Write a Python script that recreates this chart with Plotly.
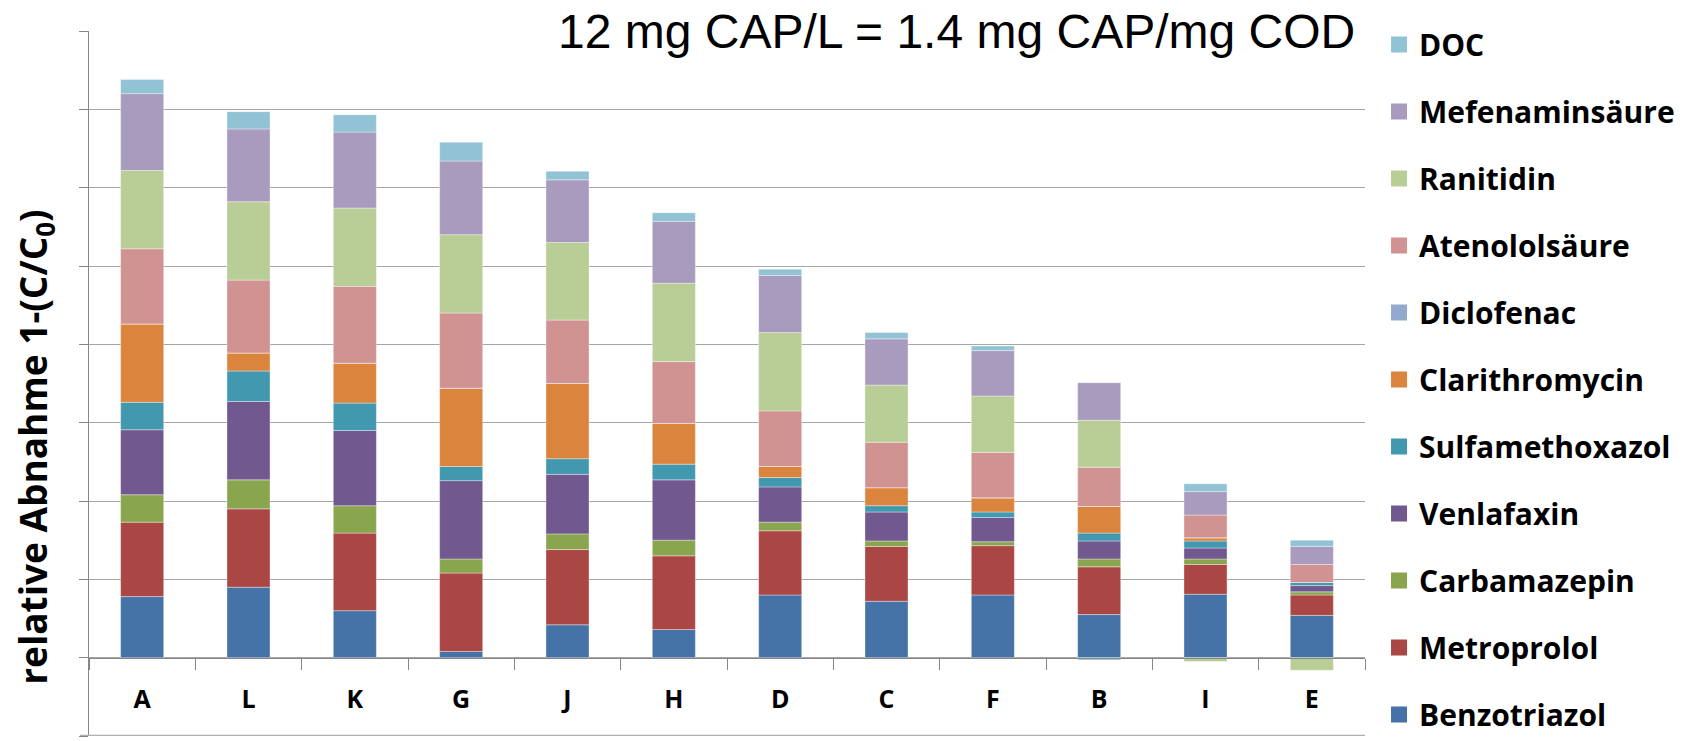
import plotly.graph_objects as go

categories = ["A", "L", "K", "G", "J", "H", "D", "C", "F", "B", "I", "E"]

series_names = ["Benzotriazol", "Metroprolol", "Carbamazepin", "Venlafaxin",
                "Sulfamethoxazol", "Clarithromycin", "Diclofenac", "Atenololsäure",
                "Ranitidin", "Mefenaminsäure", "DOC"]

benzotriazol    = [0.78, 0.90, 0.60, 0.08, 0.42, 0.36, 0.80, 0.72, 0.80, 0.55, 0.81, 0.54]
metroprolol     = [0.95, 1.00, 0.99, 1.00, 0.96, 0.94, 0.82, 0.70, 0.63, 0.61, 0.38, 0.26]
carbamazepin    = [0.35, 0.37, 0.35, 0.18, 0.20, 0.20, 0.11, 0.07, 0.05, 0.10, 0.07, 0.04]
venlafaxin      = [0.83, 1.00, 0.96, 1.00, 0.76, 0.77, 0.45, 0.37, 0.31, 0.23, 0.14, 0.08]
sulfamethoxazol = [0.35, 0.39, 0.35, 0.18, 0.20, 0.20, 0.12, 0.08, 0.07, 0.10, 0.09, 0.04]
clarithromycin  = [1.00, 0.23, 0.51, 1.00, 0.96, 0.52, 0.14, 0.23, 0.18, 0.34, 0.04, 0.00]
diclofenac      = [0.00, 0.00, 0.00, 0.00, 0.00, 0.00, 0.00, 0.00, 0.00, 0.00, 0.00, 0.00]
atenololsaeure  = [0.96, 0.93, 0.98, 0.96, 0.81, 0.79, 0.71, 0.58, 0.58, 0.50, 0.29, 0.23]
ranitidin       = [1.00, 1.00, 1.00, 1.00, 0.99, 1.00, 1.00, 0.73, 0.72, 0.60, -0.05, -0.16]
mefenaminsaeure = [0.98, 0.93, 0.97, 0.94, 0.80, 0.79, 0.73, 0.59, 0.58, 0.48, 0.30, 0.23]
doc             = [0.18, 0.22, 0.22, 0.24, 0.11, 0.11, 0.08, 0.08, 0.06, -0.03, 0.10, 0.08]

series_values = [benzotriazol, metroprolol, carbamazepin, venlafaxin, sulfamethoxazol,
                 clarithromycin, diclofenac, atenololsaeure, ranitidin, mefenaminsaeure, doc]

colors = ["#4572A7", "#AA4643", "#89A54E", "#71588F", "#4198AF", "#DB843D",
          "#93A9CF", "#D19392", "#B9CD96", "#A99BBD", "#92C3D4"]

y_range = [-1, 8]

title_text = "12 mg CAP/L = 1.4 mg CAP/mg COD"
y_title = "relative Abnahme 1-(C/C<sub>0</sub>)"

fig = go.Figure()
for i, (name, vals, col) in enumerate(zip(series_names, series_values, colors)):
    fig.add_trace(go.Bar(
        x=categories, y=vals, name=name, legendgroup=name, showlegend=False,
        marker=dict(color=col, line=dict(color="rgba(255,255,255,0.45)", width=0.8)),
    ))
    # legend entry (square swatch) for the same series
    fig.add_trace(go.Scatter(
        x=[None], y=[None], mode="markers", name=name, legendgroup=name,
        legendrank=100 - i, showlegend=True, hoverinfo="skip",
        marker=dict(symbol="square", size=20, color=col, line=dict(width=0)),
    ))

font_bold = "Open Sans"

fig.update_layout(
    width=1686, height=741,
    paper_bgcolor="white", plot_bgcolor="white",
    barmode="relative", bargap=0.595,
    margin=dict(l=89, r=321, t=31, b=5, autoexpand=False),
    showlegend=True,
    legend=dict(
        x=1.011, xanchor="left", y=-0.0064, yanchor="bottom",
        traceorder="grouped", tracegroupgap=25, maxheight=900,
        font=dict(family=font_bold, size=30, color="black", weight="bold"),
        bgcolor="rgba(0,0,0,0)", itemwidth=30,
    ),
    xaxis=dict(
        type="category", anchor="free", position=1 / (y_range[1] - y_range[0]),
        categoryorder="array", categoryarray=categories,
        showline=True, linecolor="#868686", linewidth=1,
        ticks="outside", tickson="boundaries", ticklen=11, tickcolor="#868686",
        showgrid=False, automargin=False,
        tickfont=dict(family=font_bold, size=25, color="black", weight="bold"),
        ticklabelstandoff=19,
    ),
    yaxis=dict(
        range=y_range, dtick=1, tick0=0,
        showgrid=True, gridcolor="#A6A6A6", gridwidth=1,
        showline=True, linecolor="#868686", linewidth=1,
        ticks="outside", ticklen=9, tickcolor="#868686",
        showticklabels=False, zeroline=False, automargin=False,
    ),
    shapes=[
        dict(type="line", xref="paper", x0=-0.007, x1=1, yref="y",
             y0=y_range[0], y1=y_range[0], line=dict(color="#B0B0B0", width=2.5)),
    ],
    annotations=[
        dict(text=title_text, xref="paper", yref="paper", x=0.680, y=1.0,
             xanchor="center", yanchor="middle", showarrow=False,
             font=dict(family="Liberation Sans, Arial", size=48, color="black"),
             bgcolor="white", borderpad=20),
        dict(text=y_title, xref="paper", yref="paper", x=-0.0423, y=0.409,
             xanchor="center", yanchor="middle", showarrow=False, textangle=-90,
             font=dict(family=font_bold, size=37, color="black", weight="bold")),
    ],
)

fig.write_html("out.html", config={"displayModeBar": False},
               post_script="document.body.style.margin='0px';")
